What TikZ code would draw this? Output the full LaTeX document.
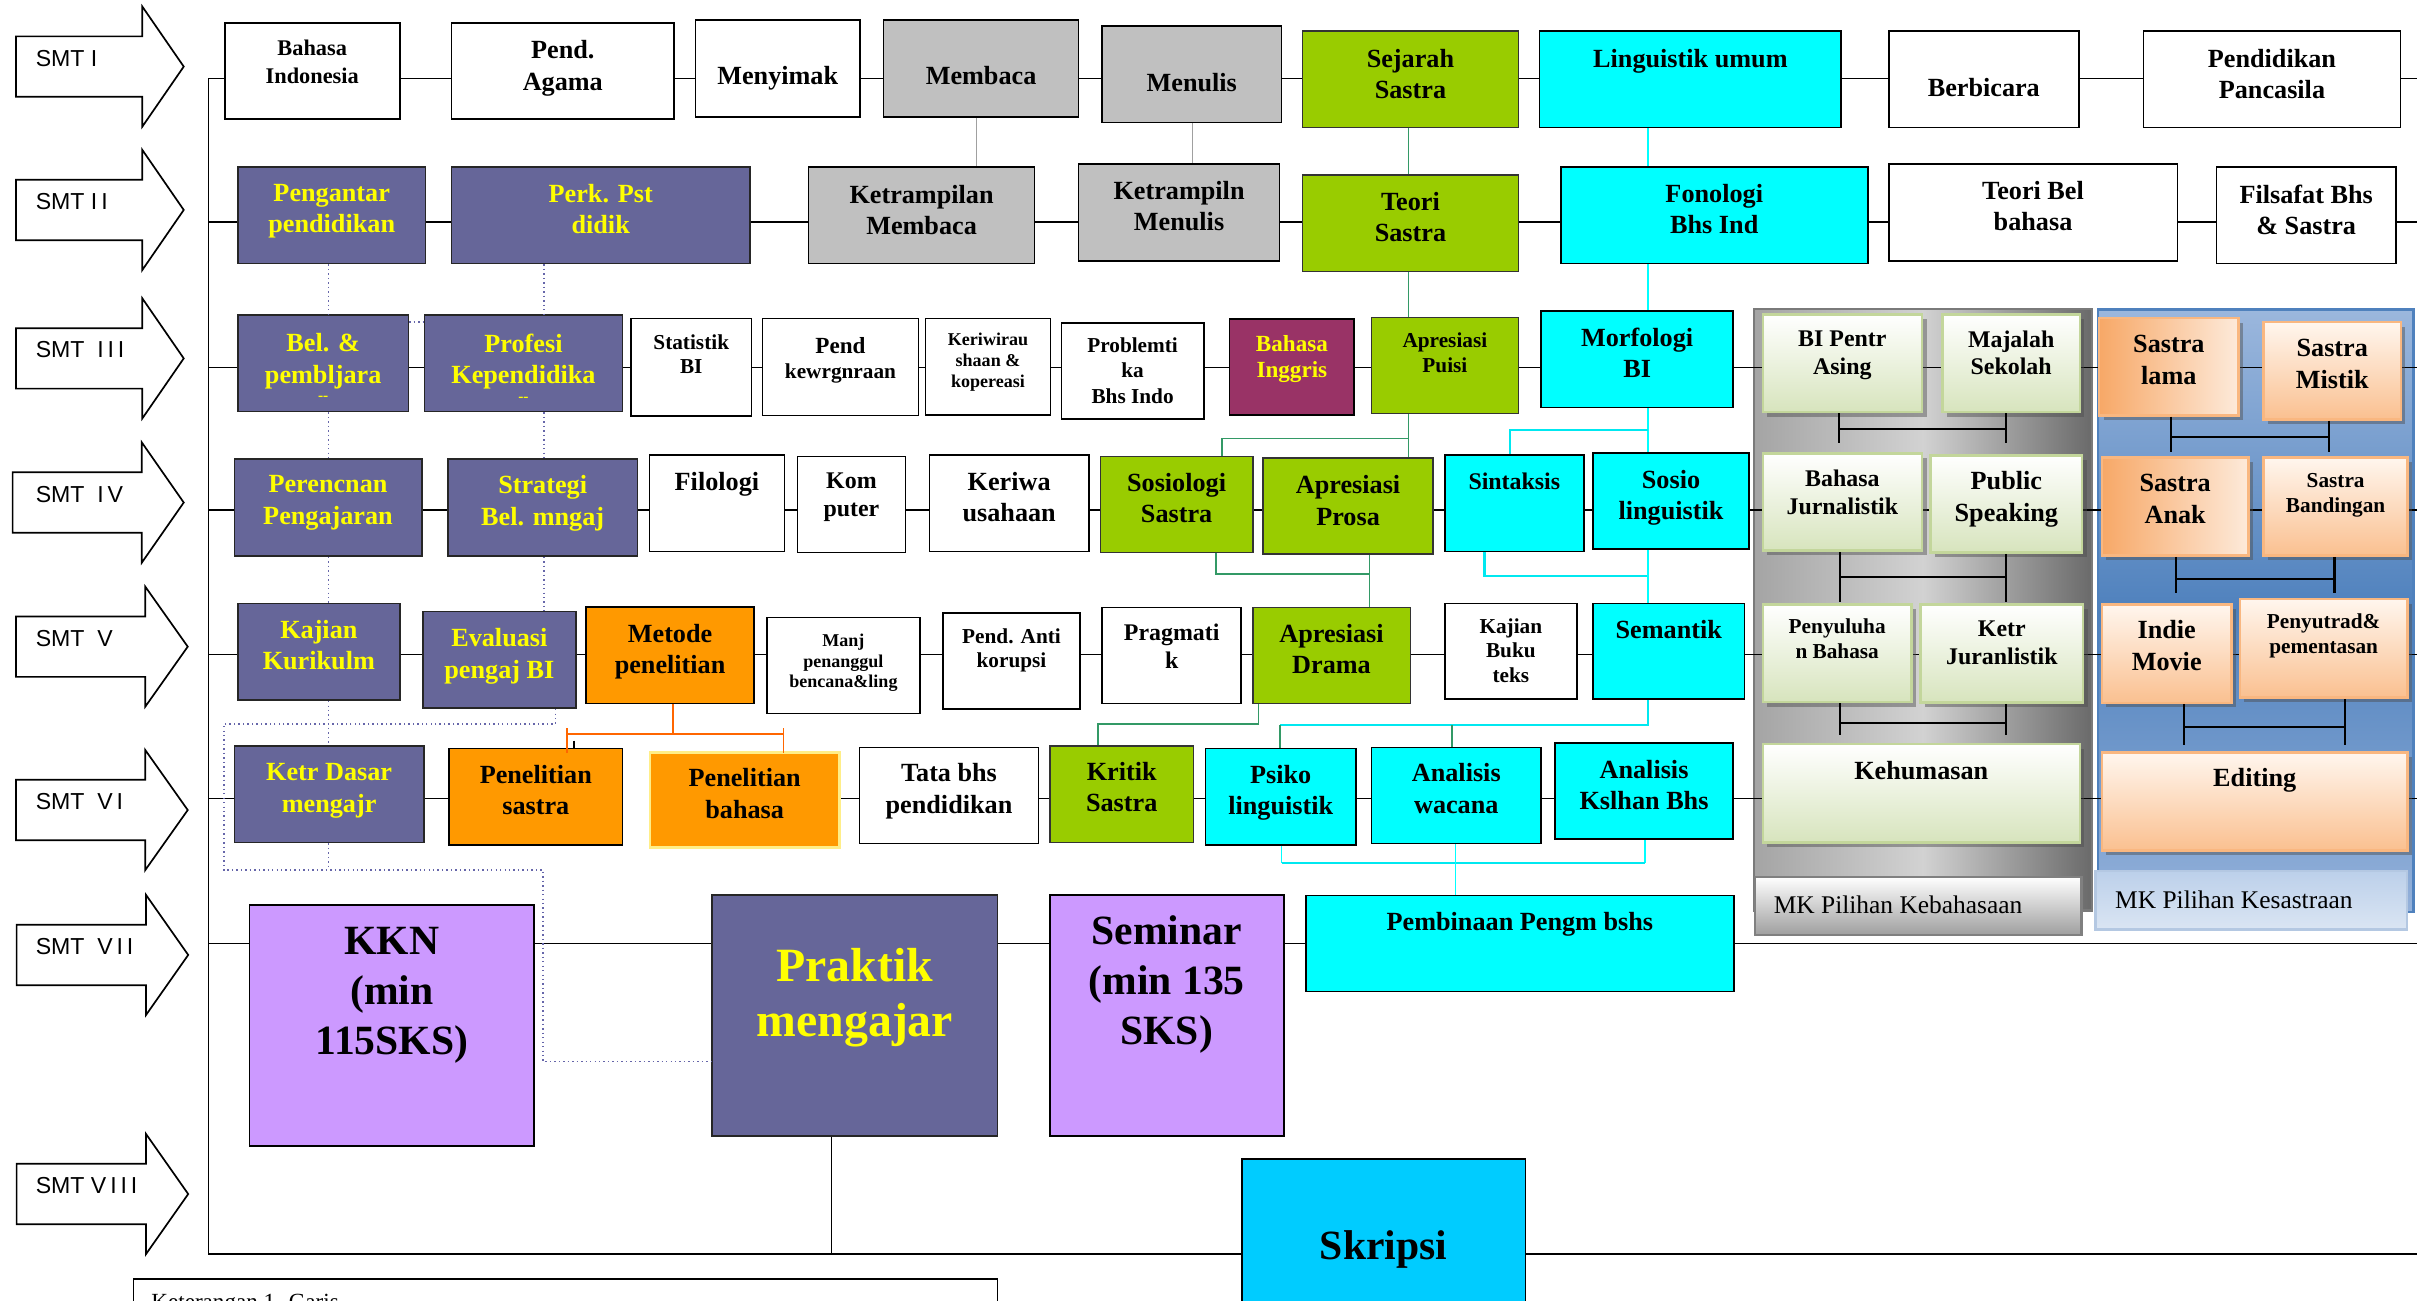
\documentclass[tikz,border=0pt]{standalone}
\usepackage{fontspec}
\setmainfont{Liberation Serif}
\newfontfamily\smtfont{Liberation Sans}
\usetikzlibrary{shadows}
\pgfdeclarelayer{bg}
\pgfdeclarelayer{lines}
\pgfsetlayers{bg,lines,main}
\definecolor{cPurp}{HTML}{666699}
\definecolor{cGray}{HTML}{C0C0C0}
\definecolor{cLime}{HTML}{99CC00}
\definecolor{cCyan}{HTML}{00FFFF}
\definecolor{cMaroon}{HTML}{993366}
\definecolor{cOrange}{HTML}{FF9900}
\definecolor{cViolet}{HTML}{CC99FF}
\definecolor{cSky}{HTML}{00CCFF}
\definecolor{cYel}{HTML}{FFFF00}
\definecolor{cPaleYel}{HTML}{FFEE88}
\definecolor{cGrn}{HTML}{339966}
\definecolor{cLineCyan}{HTML}{00E8F0}
\definecolor{cOrgLine}{HTML}{FF6600}
\definecolor{cDot}{HTML}{6666AA}
\definecolor{cLineGray}{HTML}{A0A0A0}
\definecolor{egBot}{HTML}{D7E4BD}
\definecolor{egBorder}{HTML}{C3D69B}
\definecolor{eoTop}{HTML}{FFF6EE}
\definecolor{eoBot}{HTML}{FAC090}
\definecolor{eoBorder}{HTML}{F9B780}
\definecolor{eoLeft}{HTML}{F7A867}
\definecolor{eoRight}{HTML}{FDEADA}
\definecolor{gpL}{HTML}{A4A4A4}
\definecolor{gpM}{HTML}{D2D2D2}
\definecolor{gpR}{HTML}{6A6A6A}
\definecolor{gpB}{HTML}{7A7A7A}
\definecolor{bpT}{HTML}{9BB7DD}
\definecolor{bpM}{HTML}{4F81BD}
\definecolor{bpB}{HTML}{94B1DA}
\definecolor{mkbT}{HTML}{BCD0EA}
\definecolor{mkbB}{HTML}{DAE5F3}
\definecolor{mkbD}{HTML}{B4C8E2}

\newcommand\mkbox[9]{%
  \pgfmathsetmacro\mkbw{#5-#3}%
  \pgfmathsetmacro\mkbh{#6-#4}%
  \node[#2, minimum width=\mkbw pt, minimum height=\mkbh pt, anchor=north west] (#1) at (#3,#4) {};%
  \node[#2 t, #8, anchor=north, align=center, inner sep=0pt] (#1-t) at ([yshift=-#7pt]#1.north) {#9};%
}
\newcommand\smtarrow[6]{%
  \draw[smtarr] (#2,#3-19.6) -- (#4,#3-19.6) -- (#4,#3-39) -- (#5,#3) -- (#4,#3+39) -- (#4,#3+19.6) -- (#2,#3+19.6) -- cycle;%
  \node[smtlab, anchor=west] (#1) at (23,#3-5.5) {#6};%
}
\newcommand\ebrk[6]{%
  \coordinate (#1-bv) at (#3,#6); \coordinate (#2-bv) at (#4,#6);%
  \coordinate (#1-bh) at (#3,#5); \coordinate (#2-bh) at (#4,#5);%
  \draw[brk] (#1.south -| #1-bv) -- (#1-bv);%
  \draw[brk] (#2.south -| #2-bv) -- (#2-bv);%
  \draw[brk] (#1-bh) -- (#2-bh);%
}

\begin{document}
\begin{tikzpicture}[x=1pt,y=-1pt,
  bxbase/.style={rectangle, draw=black, line width=1.1pt, inner sep=0pt},
  wbox/.style={bxbase, fill=white}, wbox t/.style={text=black},
  pbox/.style={bxbase, fill=cPurp, draw=black!85}, pbox t/.style={text=cYel},
  gbox/.style={bxbase, fill=cGray}, gbox t/.style={text=black},
  lbox/.style={bxbase, fill=cLime, draw=black!80}, lbox t/.style={text=black},
  cbox/.style={bxbase, fill=cCyan}, cbox t/.style={text=black},
  mbox/.style={bxbase, fill=cMaroon}, mbox t/.style={text=cYel},
  obox/.style={bxbase, fill=cOrange}, obox t/.style={text=black},
  obox2/.style={bxbase, fill=cOrange, draw=cPaleYel, line width=1.8pt}, obox2 t/.style={text=black},
  vbox/.style={bxbase, fill=cViolet}, vbox t/.style={text=black},
  sbox/.style={bxbase, fill=cSky}, sbox t/.style={text=black},
  egbox/.style={rectangle, inner sep=0pt, top color=white, bottom color=egBot, draw=egBorder, line width=1.6pt,
     drop shadow={shadow xshift=3pt, shadow yshift=-3pt, opacity=0.45, fill=black!70}}, egbox t/.style={text=black},
  eobox/.style={rectangle, inner sep=0pt, top color=eoTop, bottom color=eoBot, draw=eoBorder, line width=1.6pt,
     drop shadow={shadow xshift=3pt, shadow yshift=-3pt, opacity=0.45, fill=black!70}}, eobox t/.style={text=black},
  eobox2/.style={rectangle, inner sep=0pt, left color=eoLeft, right color=eoRight, draw=eoBorder, line width=1.6pt,
     drop shadow={shadow xshift=3pt, shadow yshift=-3pt, opacity=0.45, fill=black!70}}, eobox2 t/.style={text=black},
  fA/.style={font=\fontsize{17}{20.4}\selectfont\bfseries},
  fB/.style={font=\fontsize{15.5}{18}\selectfont\bfseries},
  fC/.style={font=\fontsize{13.8}{15.8}\selectfont\bfseries},
  fC2/.style={font=\fontsize{13.8}{16.4}\selectfont\bfseries},
  fD/.style={font=\fontsize{11.7}{13.5}\selectfont\bfseries},
  fE/.style={font=\fontsize{14.5}{18.2}\selectfont\bfseries},
  fF/.style={font=\fontsize{15}{17.3}\selectfont\bfseries},
  fBig/.style={font=\fontsize{27}{32.3}\selectfont\bfseries},
  fPM/.style={font=\fontsize{31}{36}\selectfont\bfseries},
  smtarr/.style={draw=black, fill=white, line width=1.1pt, line join=miter},
  smtlab/.style={font=\smtfont\fontsize{15}{15}\selectfont, inner sep=0pt},
  rowline/.style={draw=black, line width=1.1pt},
  grayln/.style={draw=cLineGray, line width=0.9pt},
  grn/.style={draw=cGrn, line width=1pt},
  cyn/.style={draw=cCyan, line width=1pt},
  cynh/.style={draw=cLineCyan, line width=1.6pt},
  org/.style={draw=cOrgLine, line width=1.1pt},
  dotln/.style={draw=cDot, dotted, line width=0.9pt},
  brk/.style={draw=black, line width=1.4pt},
  mklab/.style={font=\fontsize{16.5}{16.5}\selectfont, inner sep=0pt, anchor=west}
]
\useasboundingbox (0,0) rectangle (1568,844);

\begin{pgfonlayer}{bg}
  \fill[white] (0,0) rectangle (1568,844);
  \node[rectangle, inner sep=0pt, left color=gpL, right color=gpR, middle color=gpM, draw=gpB, line width=1.5pt,
        minimum width=219.5pt, minimum height=390.5pt, anchor=north west] (gpanel) at (1136.9,199.5) {};
  \node[rectangle, inner sep=0pt, top color=bpT, bottom color=bpB, middle color=bpM, draw=bpM, line width=1.5pt,
        minimum width=204.7pt, minimum height=391pt, anchor=north west] (bpanel) at (1360.3,200) {};
\end{pgfonlayer}

% SMT arrows
\smtarrow{smt1}{10.4}{43.2}{92.3}{119.2}{SMT I}
\smtarrow{smt2}{10.4}{136.2}{92.3}{119.2}{SMT I\,I}
\smtarrow{smt3}{10.4}{232.5}{92.3}{119.2}{SMT\ \ I\,I\,I}
\smtarrow{smt4}{8.2}{326}{92}{119.2}{SMT\ \ I\,V}
\smtarrow{smt5}{10.4}{419.5}{94.2}{121.8}{SMT\ \ V}
\smtarrow{smt6}{10.4}{525.5}{94.2}{121.8}{SMT\ \ V\,I}
\smtarrow{smt7}{10.8}{619.5}{94.7}{122.1}{SMT\ \ V\,I\,I}
\smtarrow{smt8}{10.8}{774.6}{94.7}{122.1}{SMT V\,I\,I\,I}

% Row 1
\mkbox{bind}{wbox}{145.2}{14.5}{258.8}{76.8}{11}{fE}{Bahasa\\Indonesia}
\mkbox{pagama}{wbox}{292.3}{14.5}{436.8}{76.8}{11.5}{fA}{Pend.\\Agama}
\mkbox{menyimak}{wbox}{450.6}{12.5}{557.4}{75.3}{30}{fA}{Menyimak}
\mkbox{membaca}{gbox}{572.6}{12.5}{699.2}{75.3}{30.5}{fA}{Membaca}
\mkbox{menulis}{gbox}{714.5}{16.2}{830.7}{78.9}{31}{fA}{Menulis}
\mkbox{sejarah}{lbox}{844.4}{19.5}{984.5}{82.2}{12}{fA}{Sejarah\\Sastra}
\mkbox{lingum}{cbox}{998.2}{19.5}{1193.9}{82.2}{12.5}{fA}{Linguistik umum}
\mkbox{berbicara}{wbox}{1224.7}{19.5}{1348.1}{82.2}{31}{fA}{Berbicara}
\mkbox{pancasila}{wbox}{1390}{19.5}{1556.7}{82.2}{12}{fA}{Pendidikan\\Pancasila}

% Row 2
\mkbox{pengantar}{pbox}{153.8}{107.7}{275.5}{170.4}{11.7}{fA}{Pengantar\\pendidikan}
\mkbox{perk}{pbox}{292.3}{107.7}{486}{170.4}{11.7}{fA}{Perk. Pst\\didik}
\mkbox{ketrmem}{gbox}{524}{107.7}{670.6}{170.4}{12.3}{fA}{Ketrampilan\\Membaca}
\mkbox{ketrmen}{gbox}{699.2}{106}{829.5}{168.7}{11.4}{fA}{Ketrampiln\\Menulis}
\mkbox{teori}{lbox}{844.4}{112.9}{984.5}{175.6}{11.4}{fA}{Teori\\Sastra}
\mkbox{fonologi}{cbox}{1012}{107.7}{1211.1}{170.4}{11.7}{fA}{Fonologi\\Bhs Ind}
\mkbox{teoribel}{wbox}{1224.7}{106}{1412}{168.7}{11.4}{fA}{Teori Bel\\bahasa}
\mkbox{filsafat}{wbox}{1437.4}{107.7}{1553.7}{170.4}{12}{fA}{Filsafat Bhs\\\& Sastra}

% Row 3
\mkbox{bel}{pbox}{153.8}{203.7}{264.4}{266.4}{12.5}{fA}{Bel. \&\\pembljara\\[-9pt]{\fontsize{10}{10}\selectfont -{}-}}
\mkbox{profesi}{pbox}{274.8}{203.7}{403.3}{266.4}{12.5}{fA}{Profesi\\Kependidika\\[-9pt]{\fontsize{10}{10}\selectfont -{}-}}
\mkbox{statistik}{wbox}{408.8}{206}{487}{269.2}{11}{fC}{Statistik\\BI}
\mkbox{pendkew}{wbox}{494.1}{206}{595.3}{269}{12.4}{fC2}{{\fontsize{15}{16}\selectfont Pend}\\kewrgnraan}
\mkbox{keriwi}{wbox}{599.8}{206}{681}{268.8}{10}{fD}{Keriwirau\\shaan \&\\kopereasi}
\mkbox{problem}{wbox}{688}{209}{780.4}{271.4}{10}{fC2}{Problemti\\ka\\Bhs Indo}
\mkbox{binggris}{mbox}{797.1}{206.5}{878}{268.8}{10.8}{fF}{Bahasa\\Inggris}
\mkbox{apuisi}{lbox}{889.1}{205.4}{984.5}{267.7}{10.4}{fC}{Apresiasi\\Puisi}
\mkbox{morfologi}{cbox}{999.3}{201}{1123.7}{263.8}{11.3}{fA}{Morfologi\\BI}

% Row 4
\mkbox{perenc}{pbox}{151.5}{297.4}{273}{360.1}{10.8}{fA}{Perencnan\\Pengajaran}
\mkbox{strategi}{pbox}{290}{297.4}{413}{360.1}{10.8}{fA}{Strategi\\Bel. mngaj}
\mkbox{filologi}{wbox}{420.8}{294.6}{508.3}{357.3}{11.4}{fA}{Filologi}
\mkbox{komputer}{wbox}{516.8}{295.6}{586.8}{357.9}{11}{fB}{Kom\\puter}
\mkbox{keriwa}{wbox}{602.4}{294.6}{705.9}{357.3}{11.4}{fA}{Keriwa\\usahaan}
\mkbox{sosiologi}{lbox}{713.4}{295.6}{812.1}{357.9}{11}{fA}{Sosiologi\\Sastra}
\mkbox{aprosa}{lbox}{818.7}{296.7}{929.3}{359}{11.5}{fA}{Apresiasi\\Prosa}
\mkbox{sintaksis}{cbox}{936.8}{294.6}{1026.9}{357.3}{12}{fB}{Sintaksis}
\mkbox{sosioling}{cbox}{1032.9}{293.5}{1134.1}{355.8}{11.4}{fA}{Sosio\\linguistik}

% Row 5
\mkbox{kajian}{pbox}{153.8}{391}{258.8}{453.7}{11.2}{fA}{Kajian\\Kurikulm}
\mkbox{evaluasi}{pbox}{273.7}{396.2}{373.1}{458.9}{11.4}{fA}{Evaluasi\\pengaj BI}
\mkbox{metode}{obox}{379.8}{393.2}{488.5}{455.9}{11.6}{fA}{Metode\\penelitian}
\mkbox{manj}{wbox}{497.1}{400.1}{596.1}{462.4}{10.8}{fD}{Manj\\penanggul\\bencana\&ling}
\mkbox{antikor}{wbox}{611}{397.3}{700.3}{459.6}{10.3}{fC}{Pend. Anti\\korupsi}
\mkbox{pragmatik}{wbox}{714.5}{393.6}{804.6}{455.9}{11.2}{fB}{Pragmati\\k}
\mkbox{adrama}{lbox}{812.1}{393.6}{914.4}{455.9}{11.2}{fA}{Apresiasi\\Drama}
\mkbox{kajbuku}{wbox}{936.8}{391}{1022.4}{453.1}{10.2}{fC}{Kajian\\Buku\\teks}
\mkbox{semantik}{cbox}{1032.9}{391}{1131.2}{453.1}{11.2}{fA}{Semantik}

% Row 6
\mkbox{ketrdasar}{pbox}{151.5}{483.3}{274.4}{546}{12}{fA}{Ketr Dasar\\mengajr}
\mkbox{psastra}{obox}{290.8}{485}{403.3}{547.5}{11.3}{fA}{Penelitian\\sastra}
\mkbox{pbahasa}{obox2}{420.8}{487.2}{543.6}{548.8}{11.3}{fA}{Penelitian\\bahasa}
\mkbox{tatabhs}{wbox}{557}{484.4}{673.2}{546.7}{10.8}{fA}{Tata bhs\\pendidikan}
\mkbox{kritik}{lbox}{680.6}{483.3}{773.7}{546}{10.8}{fA}{Kritik\\Sastra}
\mkbox{psiko}{cbox}{781.5}{485}{879.1}{547.6}{11.3}{fA}{Psiko\\linguistik}
\mkbox{awacana}{cbox}{889.1}{484.4}{999.3}{546.7}{10.8}{fA}{Analisis\\wacana}
\mkbox{akslhan}{cbox}{1008.3}{481.6}{1123.7}{543.9}{11.4}{fA}{Analisis\\Kslhan Bhs}

% Row 7 / 8
\mkbox{kkn}{vbox}{161.4}{586.6}{345.9}{742.8}{15}{fBig}{KKN\\(min\\115SKS)}
\mkbox{praktik}{pbox}{461.5}{580}{646.6}{736.3}{35}{fPM}{Praktik\\mengajar}
\mkbox{seminar}{vbox}{680.5}{580}{832.2}{736.3}{14}{fBig}{Seminar\\(min 135\\SKS)}
\mkbox{pembinaan}{cbox}{846.7}{580.4}{1124.2}{642.7}{11.2}{fA}{Pembinaan Pengm bshs}
\mkbox{skripsi}{sbox}{805}{751.4}{989}{870}{46.5}{fBig}{Skripsi}

% Electives
\mkbox{bipentr}{egbox}{1142.8}{203.3}{1246}{266.4}{11}{fB}{BI Pentr\\Asing}
\mkbox{majalah}{egbox}{1259.4}{203.3}{1348.4}{266.4}{11}{fB}{Majalah\\Sekolah}
\mkbox{slama}{eobox2}{1361}{205.5}{1451.4}{268.6}{11.8}{fA}{Sastra\\lama}
\mkbox{smistik}{eobox}{1467.7}{208.2}{1556.7}{271.3}{11.8}{fA}{Sastra\\Mistik}
\mkbox{bjurnal}{egbox}{1142.8}{293.3}{1246}{356.4}{11.5}{fB}{Bahasa\\Jurnalistik}
\mkbox{public}{egbox}{1251.7}{294.6}{1349.9}{357.7}{11}{fA}{Public\\Speaking}
\mkbox{sanak}{eobox2}{1362.7}{296}{1457.9}{359.6}{11.5}{fA}{Sastra\\Anak}
\mkbox{sbanding}{eobox}{1467.7}{296}{1561.1}{359.6}{11}{fC2}{Sastra\\Bandingan}
\mkbox{penyuluh}{egbox}{1142.8}{391.5}{1239.3}{454.6}{9.5}{fC2}{Penyuluha\\n Bahasa}
\mkbox{ketrjur}{egbox}{1245.2}{391.5}{1350.5}{455}{11}{fB}{Ketr\\Juranlistik}
\mkbox{indie}{eobox}{1362.7}{391.5}{1446.9}{455.1}{11}{fA}{Indie\\Movie}
\mkbox{penyutrad}{eobox}{1452.2}{387.8}{1561.1}{451.8}{10.2}{fC2}{Penyutrad\&\\pementasan}
\mkbox{kehumasan}{egbox}{1142.8}{482}{1348.4}{545.6}{11.5}{fA}{Kehumasan}
\mkbox{editing}{eobox}{1362.7}{487.5}{1561.1}{551}{11}{fA}{Editing}

% MK labels
\node[rectangle, inner sep=0pt, top color=white, bottom color=black!38, draw=black!50, line width=1.5pt,
      minimum width=211.8pt, minimum height=38pt, anchor=north west] (mkbhs) at (1137.8,568) {};
\node[mklab] (mkbhs-t) at (1150.5,587) {MK Pilihan Kebahasaan};
\node[rectangle, inner sep=0pt, top color=mkbT, bottom color=mkbB, draw=mkbD, line width=1.5pt,
      minimum width=201.9pt, minimum height=37.8pt, anchor=north west] (mksas) at (1358.7,564.4) {};
\node[mklab] (mksas-t) at (1372,583.5) {MK Pilihan Kesastraan};

% caption box (cut by the page edge)
\node[rectangle, draw=black, line width=1.1pt, fill=white, minimum width=560.6pt, minimum height=40pt, anchor=north west] (ket) at (86,829.3) {};
\node[font=\fontsize{15}{15}\selectfont, inner sep=0pt, anchor=base west] (ket-t) at (98,849.5) {Keterangan 1. Garis};

% row lines and spine
\begin{pgfonlayer}{lines}
  \coordinate (spT) at (135.2,50.8);
  \coordinate (spB) at (135.2,813.7);
  \draw[rowline] (spT) -- (spB);
  \coordinate (r1s) at (135.2,51);    \coordinate (r1e) at (1568,51);
  \coordinate (r2s) at (135.2,143.8); \coordinate (r2e) at (1568,143.8);
  \coordinate (r3s) at (135.2,238.5); \coordinate (r3e) at (1568,238.5);
  \coordinate (r4s) at (135.2,331);   \coordinate (r4e) at (1568,331);
  \coordinate (r5s) at (135.2,424.5); \coordinate (r5e) at (1568,424.5);
  \coordinate (r6s) at (135.2,518);   \coordinate (r6a) at (350,518);
  \coordinate (r6b) at (480,518);     \coordinate (r6e) at (1568,518);
  \coordinate (r7s) at (135.2,612);   \coordinate (r7e) at (1568,612);
  \coordinate (r8e) at (1568,813.7);
  \draw[rowline] (r1s) -- (r1e);
  \draw[rowline] (r2s) -- (r2e);
  \draw[rowline] (r3s) -- (r3e);
  \draw[rowline] (r4s) -- (r4e);
  \draw[rowline] (r5s) -- (r5e);
  \draw[rowline] (r6s) -- (r6a);
  \draw[rowline] (r6b) -- (r6e);
  \draw[rowline] (r7s) -- (r7e);
  \draw[rowline] (spB) -- (r8e);
  \coordinate (xpk) at (539.5,0);
  \draw[line width=0.9pt] (praktik.south -| xpk) -- (xpk |- spB);
\end{pgfonlayer}

% tick above Penelitian sastra
\coordinate (tk) at (372.4,480.5);
\draw[line width=1pt] (tk) -- (tk |- psastra.north);

% gray connectors
\coordinate (xg1) at (633.3,0); \coordinate (xg2) at (773.7,0);
\draw[grayln] (membaca.south -| xg1) -- (ketrmem.north -| xg1);
\draw[grayln] (menulis.south -| xg2) -- (ketrmen.north -| xg2);

% green connectors
\coordinate (xn1) at (913.8,0); \coordinate (xn2) at (792.7,0); \coordinate (yn1) at (0,284.4);
\coordinate (xn3) at (789,0); \coordinate (xn4) at (888.4,0); \coordinate (yn2) at (0,372.4);
\coordinate (xn5) at (816.5,0); \coordinate (xn6) at (712.3,0); \coordinate (yn3) at (0,469.7);
\draw[grn] (sejarah.south -| xn1) -- (teori.north -| xn1);
\draw[grn] (teori.south -| xn1) -- (apuisi.north -| xn1);
\draw[grn] (apuisi.south -| xn1) -- (aprosa.north -| xn1);
\draw[grn] (xn1 |- yn1) -| (sosiologi.north -| xn2);
\draw[grn] (sosiologi.south -| xn3) |- (xn4 |- yn2);
\draw[grn] (aprosa.south -| xn4) -- (adrama.north -| xn4);
\draw[grn] (adrama.south -| xn5) |- (xn6 |- yn3) -- (kritik.north -| xn6);

% cyan connectors
\coordinate (xc1) at (1069,0); \coordinate (xc2) at (979.6,0); \coordinate (yc1) at (0,279);
\coordinate (xc3) at (962.9,0); \coordinate (yc2) at (0,373.7);
\coordinate (xc5) at (830.5,0); \coordinate (yc3) at (0,470.4); \coordinate (xc6) at (941.8,0);
\coordinate (xc7) at (831.4,0); \coordinate (yc4) at (0,560); \coordinate (xc8) at (1067.1,0); \coordinate (xc9) at (944.2,0);
\draw[cyn] (lingum.south -| xc1) -- (fonologi.north -| xc1);
\draw[cyn] (fonologi.south -| xc1) -- (morfologi.north -| xc1);
\draw[cyn] (morfologi.south -| xc1) -- (sosioling.north -| xc1);
\draw[cynh] (xc1 |- yc1) -| (sintaksis.north -| xc2);
\draw[cynh] (sintaksis.south -| xc3) |- (xc1 |- yc2);
\draw[cyn] (sosioling.south -| xc1) -- (semantik.north -| xc1);
\draw[cynh] (semantik.south -| xc1) |- (xc5 |- yc3);
\draw[grn] (xc5 |- yc3) -- (psiko.north -| xc5);
\draw[grn] (xc6 |- yc3) -- (awacana.north -| xc6);
\draw[cyn] (psiko.south -| xc7) -- (xc7 |- yc4);
\draw[cyn] (akslhan.south -| xc8) -- (xc8 |- yc4);
\draw[cynh] (xc7 |- yc4) -- (xc8 |- yc4);
\draw[cyn] (awacana.south -| xc9) -- (pembinaan.north -| xc9);

% orange bracket
\coordinate (xo1) at (436.4,0); \coordinate (xo2) at (367.9,0); \coordinate (xo3) at (508.3,0);
\coordinate (yo0) at (0,472.5); \coordinate (yo1) at (0,476.2); \coordinate (yo2) at (0,488.7);
\draw[org] (metode.south -| xo1) -- (xo1 |- yo1);
\draw[org] (xo2 |- yo1) -- (xo3 |- yo1);
\draw[org] (xo2 |- yo0) -- (xo2 |- yo2);
\draw[org] (xo3 |- yo0) -- (xo3 |- yo2);

% dotted connectors
\coordinate (xd1) at (213,0); \coordinate (xd2) at (353,0); \coordinate (xd3) at (360.4,0);
\coordinate (xd4) at (145.2,0); \coordinate (xd5) at (352.3,0);
\coordinate (yd0) at (0,209); \coordinate (yd1) at (0,469.7); \coordinate (yd2) at (0,564.4); \coordinate (yd3) at (0,688.7);
\draw[dotln] (pengantar.south -| xd1) -- (bel.north -| xd1);
\draw[dotln] (bel.south -| xd1) -- (perenc.north -| xd1);
\draw[dotln] (perenc.south -| xd1) -- (kajian.north -| xd1);
\draw[dotln] (kajian.south -| xd1) -- (ketrdasar.north -| xd1);
\draw[dotln] (ketrdasar.south -| xd1) -- (xd1 |- yd2);
\draw[dotln] (perk.south -| xd2) -- (profesi.north -| xd2);
\draw[dotln] (profesi.south -| xd2) -- (strategi.north -| xd2);
\draw[dotln] (strategi.south -| xd2) -- (evaluasi.north -| xd2);
\draw[dotln] (evaluasi.south -| xd3) -- (xd3 |- yd1) -- (xd4 |- yd1) -- (xd4 |- yd2) -- (xd5 |- yd2) -- (xd5 |- yd3) -- (praktik.west |- yd3);
\draw[dotln] (bel.east |- yd0) -- (profesi.west |- yd0);

% elective brackets
\ebrk{bipentr}{majalah}{1192.8}{1301.6}{278.2}{287.2}
\ebrk{bjurnal}{public}{1193.9}{1301.6}{374.2}{390.6}
\ebrk{penyuluh}{ketrjur}{1193.9}{1301.6}{468.8}{477}
\ebrk{slama}{smistik}{1408.4}{1510.7}{283.7}{293.3}
\ebrk{sanak}{sbanding}{1411.9}{1514.5}{375.6}{385}
\ebrk{indie}{penyutrad}{1416.7}{1521}{471.6}{483}

\end{tikzpicture}
\end{document}
